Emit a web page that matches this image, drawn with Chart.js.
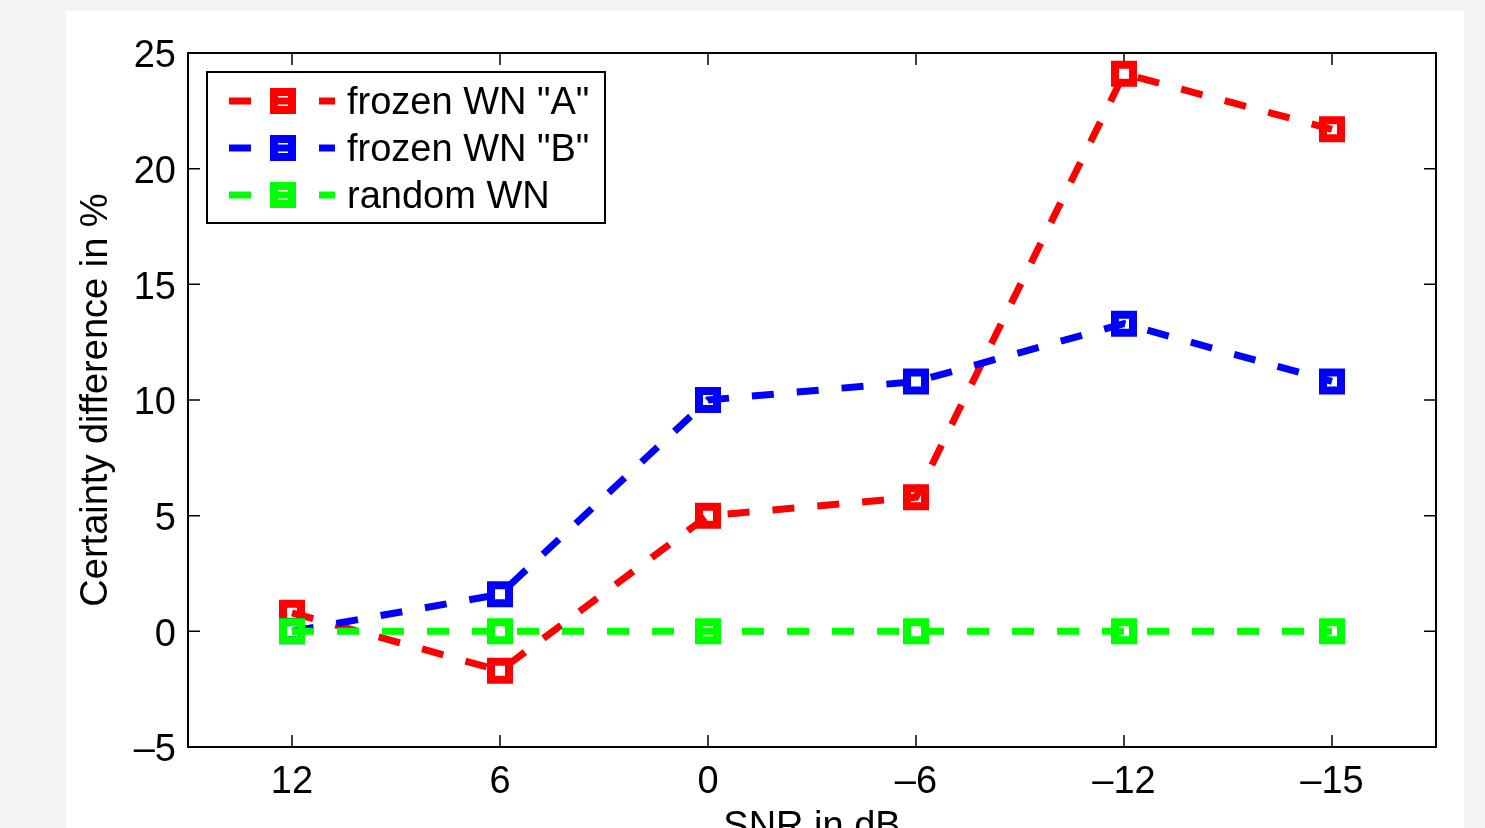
<!DOCTYPE html>
<html>
<head>
<meta charset="utf-8">
<script src="https://cdn.jsdelivr.net/npm/chart.js@4.4.0/dist/chart.umd.min.js"></script>
<style>
  html, body { margin: 0; padding: 0; background: #f3f3f3; overflow: hidden; }
  #wrap { position: absolute; left: 0; top: 0; width: 1485px; height: 860px; }
</style>
</head>
<body>
<div id="wrap"><canvas id="snrChart" width="1485" height="860"></canvas></div>
<script>
// data
var snrLabels = ["12", "6", "0", "\u20136", "\u201312", "\u201315"];
var frozenA = [0.8, -1.7, 5.0, 5.8, 24.1, 21.7];
var frozenB = [0.0, 1.6, 10.0, 10.8, 13.3, 10.8];
var randomWN = [0, 0, 0, 0, 0, 0];
var yTicks = [-5, 0, 5, 10, 15, 20, 25];

var FONT = "'Liberation Sans', Arial, Helvetica, sans-serif";
var DASH = [22, 23];

// grey page + white figure panel
var panelPlugin = {
  id: "panel",
  beforeDraw: function (chart) {
    var ctx = chart.ctx;
    ctx.save();
    ctx.fillStyle = "#f3f3f3";
    ctx.fillRect(0, 0, chart.width, chart.height);
    ctx.fillStyle = "#ffffff";
    ctx.fillRect(66, 11, 1398, chart.height - 11);
    ctx.restore();
  }
};

// box and inward ticks like matlab axes
var boxPlugin = {
  id: "box",
  beforeDatasetsDraw: function (chart) {
    var ctx = chart.ctx;
    var a = chart.chartArea;
    var xs = chart.scales.x;
    var ys = chart.scales.y;
    ctx.save();
    ctx.strokeStyle = "#000";
    ctx.lineWidth = 1.5;
    ctx.beginPath();
    xs.ticks.forEach(function (t, i) {
      var px = xs.getPixelForTick(i);
      ctx.moveTo(px, a.top); ctx.lineTo(px, a.top + 12);
      ctx.moveTo(px, a.bottom); ctx.lineTo(px, a.bottom - 12);
    });
    ys.ticks.forEach(function (t) {
      var py = ys.getPixelForValue(t.value);
      ctx.moveTo(a.left, py); ctx.lineTo(a.left + 12, py);
      ctx.moveTo(a.right, py); ctx.lineTo(a.right - 12, py);
    });
    ctx.stroke();
    ctx.lineWidth = 2;
    ctx.strokeRect(a.left, a.top, a.right - a.left, a.bottom - a.top);
    ctx.restore();
  }
};

// legend drawn by hand (line + square marker + line)
var legendPlugin = {
  id: "matlabLegend",
  afterDraw: function (chart) {
    var ctx = chart.ctx;
    ctx.save();
    ctx.fillStyle = "#fff";
    ctx.fillRect(207, 72, 398, 151);
    ctx.strokeStyle = "#000";
    ctx.lineWidth = 2;
    ctx.strokeRect(207, 72, 398, 151);
    chart.data.datasets.forEach(function (ds, i) {
      var y = 101 + i * 47;
      ctx.strokeStyle = ds.borderColor;
      ctx.lineWidth = 7;
      ctx.lineCap = "butt";
      ctx.setLineDash(DASH);
      ctx.beginPath();
      ctx.moveTo(229, y);
      ctx.lineTo(335, y);
      ctx.stroke();
      ctx.setLineDash([]);
      ctx.lineWidth = 8;
      ctx.strokeRect(283 - 9, y - 9, 18, 18);
      ctx.fillStyle = "#000";
      ctx.font = "38px " + FONT;
      ctx.textAlign = "left";
      ctx.textBaseline = "middle";
      ctx.fillText(ds.label, 347, y + 3);
    });
    ctx.restore();
  }
};

function makeSet(label, data, color, order) {
  return {
    label: label,
    data: data,
    borderColor: color,
    backgroundColor: "transparent",
    borderWidth: 7,
    borderDash: DASH,
    borderCapStyle: "butt",
    tension: 0,
    pointStyle: "rect",
    pointRadius: 12.7,
    pointHoverRadius: 12.7,
    pointBorderWidth: 8,
    pointBorderColor: color,
    pointBackgroundColor: "transparent",
    order: order
  };
}

var ctx = document.getElementById("snrChart").getContext("2d");
var snrChart = new Chart(ctx, {
  type: "line",
  data: {
    labels: snrLabels,
    datasets: [
      makeSet('frozen WN "A"', frozenA, "#ff0000", 3),
      makeSet('frozen WN "B"', frozenB, "#0000ff", 2),
      makeSet("random WN", randomWN, "#00ff00", 1)
    ]
  },
  options: {
    responsive: false,
    animation: false,
    devicePixelRatio: 1,
    layout: { padding: { top: 53, right: 49, left: 0, bottom: 0 } },
    plugins: {
      legend: { display: false },
      tooltip: { enabled: false }
    },
    scales: {
      x: {
        offset: true,
        grid: { display: false, drawTicks: false },
        border: { display: false },
        ticks: { color: "#000", padding: 13, font: { family: FONT, size: 38 } },
        title: {
          display: true,
          text: "SNR in dB",
          color: "#000",
          font: { family: FONT, size: 38 },
          padding: { top: 0, bottom: 10 }
        },
        afterFit: function (s) { s.height = 860 - 747; }
      },
      y: {
        min: -5,
        max: 25,
        grid: { display: false, drawTicks: false },
        border: { display: false },
        afterBuildTicks: function (s) {
          s.ticks = yTicks.map(function (v) { return { value: v }; });
        },
        ticks: {
          color: "#000",
          padding: 12,
          labelOffset: 4,
          font: { family: FONT, size: 38 },
          callback: function (v) { return String(v).replace("-", "\u2013"); }
        },
        title: {
          display: true,
          text: "Certainty difference in %",
          color: "#000",
          font: { family: FONT, size: 38 },
          padding: { top: 74, bottom: 0 }
        },
        afterFit: function (s) { s.width = 188; }
      }
    }
  },
  plugins: [panelPlugin, boxPlugin, legendPlugin]
});
</script>
</body>
</html>
